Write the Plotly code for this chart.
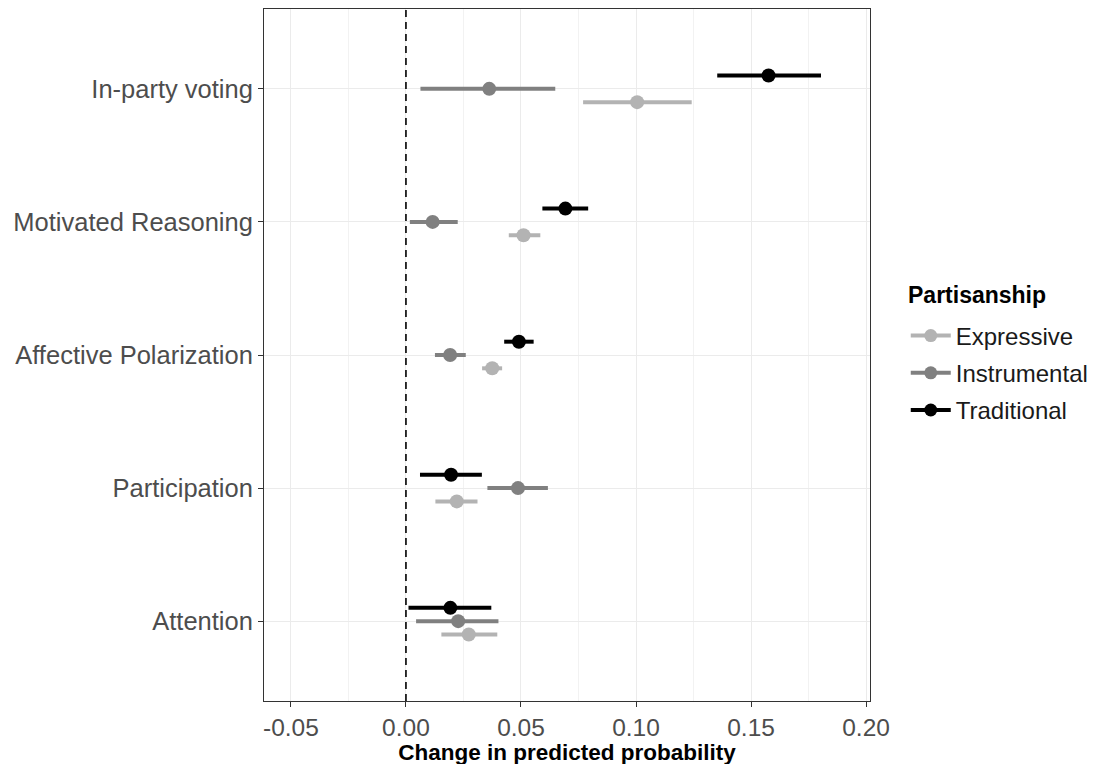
import plotly.graph_objects as go

categories = ["Attention", "Participation", "Affective Polarization", "Motivated Reasoning", "In-party voting"]
groups = ["Expressive", "Instrumental", "Traditional"]
colors = {"Expressive": "#b3b3b3", "Instrumental": "#808080", "Traditional": "#000000"}

# estimates, lower, upper per category (order matches categories)
est = {
    "Expressive":   [0.0273, 0.0221, 0.0375, 0.0511, 0.1005],
    "Instrumental": [0.0227, 0.0487, 0.0192, 0.0116, 0.0362],
    "Traditional":  [0.0193, 0.0196, 0.0491, 0.0693, 0.1576],
}
lower = {
    "Expressive":   [0.0154, 0.0128, 0.0331, 0.0447, 0.0770],
    "Instrumental": [0.0044, 0.0354, 0.0126, 0.0017, 0.0063],
    "Traditional":  [0.0011, 0.0061, 0.0427, 0.0593, 0.1353],
}
upper = {
    "Expressive":   [0.0397, 0.0311, 0.0418, 0.0584, 0.1242],
    "Instrumental": [0.0402, 0.0617, 0.0260, 0.0225, 0.0649],
    "Traditional":  [0.0371, 0.0330, 0.0555, 0.0792, 0.1804],
}
dodge = {"Expressive": -0.1, "Instrumental": 0.0, "Traditional": 0.1}
legend_title = "Partisanship"

fig = go.Figure()
for g in groups:
    ys = [i + 1 + dodge[g] for i in range(len(categories))]
    fig.add_trace(go.Scatter(
        x=est[g], y=ys, mode="markers",
        marker=dict(color=colors[g], size=14),
        error_x=dict(type="data", symmetric=False,
                     array=[u - e for u, e in zip(upper[g], est[g])],
                     arrayminus=[e - l for e, l in zip(est[g], lower[g])],
                     color=colors[g], thickness=4, width=0),
        showlegend=False, name=g,
    ))
for g in groups:
    fig.add_trace(go.Scatter(
        x=[None], y=[None], mode="lines+markers", name=g,
        line=dict(color=colors[g], width=4),
        marker=dict(color=colors[g], size=13),
        legendgroup=g,
    ))

fig.add_vline(x=0, line=dict(color="black", width=1.6, dash="7px,5px"))

fig.add_annotation(
    text="<b>" + legend_title + "</b>", xref="paper", yref="paper",
    x=1.059, y=0.5867, xanchor="left", yanchor="middle", showarrow=False,
    font=dict(size=23, color="black"),
)

fig.update_layout(
    width=1092, height=757,
    paper_bgcolor="white", plot_bgcolor="white",
    margin=dict(l=256, r=230, t=1, b=64, autoexpand=False),
    font=dict(family="Liberation Sans, Arial, sans-serif"),
    legend=dict(
        font=dict(size=24, color="#1a1a1a"),
        x=1.059, xanchor="left", y=0.560, yanchor="top",
        tracegroupgap=3, itemwidth=40,
    ),
    xaxis=dict(
        range=[-0.0617, 0.2017], tickvals=[-0.05, 0, 0.05, 0.10, 0.15, 0.20],
        ticktext=["-0.05", "0.00", "0.05", "0.10", "0.15", "0.20"],
        showgrid=True, gridcolor="#ebebeb", gridwidth=1.3,
        minor=dict(tickvals=[-0.025, 0.025, 0.075, 0.125, 0.175], showgrid=True,
                   gridcolor="#f2f2f2", gridwidth=0.8, ticks=""),
        ticks="outside", ticklen=5, tickcolor="#333333", tickwidth=1,
        tickfont=dict(size=24.5, color="#4d4d4d"),
        title=dict(text="<b>Change in predicted probability</b>",
                   font=dict(size=22.5, color="black"), standoff=7),
        showline=True, linecolor="#333333", linewidth=1, mirror=True,
        zeroline=False,
    ),
    yaxis=dict(
        range=[0.4, 5.6], tickvals=[1, 2, 3, 4, 5], ticktext=categories,
        showgrid=True, gridcolor="#ebebeb", gridwidth=1.3,
        ticks="outside", ticklen=5, tickcolor="#333333", tickwidth=1,
        tickfont=dict(size=25.5, color="#4d4d4d"),
        showline=True, linecolor="#333333", linewidth=1, mirror=True,
        zeroline=False,
    ),
)

fig.write_html("out.html")
